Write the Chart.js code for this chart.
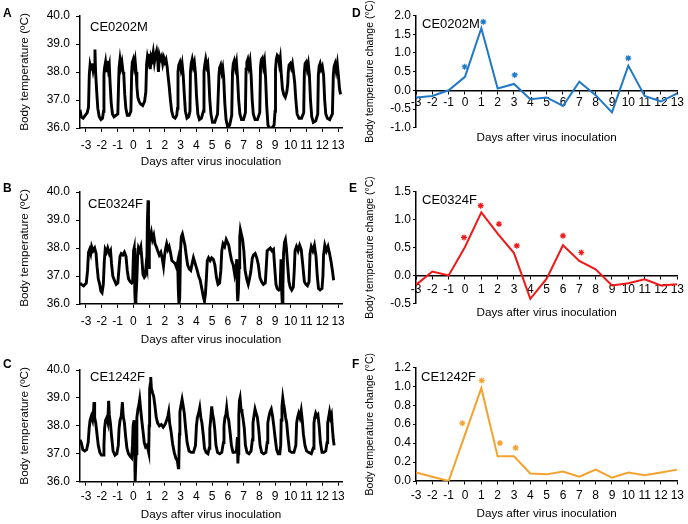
<!DOCTYPE html>
<html lang="en">
<head>
<meta charset="UTF-8">
<title>Body temperature after virus inoculation</title>
<script src="https://cdn.jsdelivr.net/npm/chart.js"></script>
<style>
    body { margin: 0; background: #fff; }
    #wrap { position: relative; width: 688px; height: 524px; }
    #wrap canvas { position: absolute; }
</style>
</head>
<body>
<div id="wrap">
    <canvas id="cA" width="344" height="175" style="left:0;top:0"></canvas>
    <canvas id="cD" width="344" height="175" style="left:344px;top:0"></canvas>
    <canvas id="cB" width="344" height="175" style="left:0;top:175px"></canvas>
    <canvas id="cE" width="344" height="175" style="left:344px;top:175px"></canvas>
    <canvas id="cC" width="344" height="174" style="left:0;top:350px"></canvas>
    <canvas id="cF" width="344" height="174" style="left:344px;top:350px"></canvas>
</div>
<script>
// tick labels
const dayLabels = [-3, -2, -1, 0, 1, 2, 3, 4, 5, 6, 7, 8, 9, 10, 11, 12, 13];
const tempTicks = [36, 37, 38, 39, 40];
const ticksD = [-1, -0.5, 0, 0.5, 1, 1.5, 2];
const ticksE = [-0.5, 0, 0.5, 1, 1.5];
const ticksF = [0, 0.2, 0.4, 0.6, 0.8, 1.0, 1.2];

// continuous body temperature traces, [day, °C]
const traceA = [
[-3.38,36.65],[-3.30,36.4],[-3.18,36.35],[-3.05,36.45],[-2.92,36.55],[-2.84,36.75],
[-2.79,37.9],[-2.74,38.25],[-2.68,38.1],[-2.62,38.3],[-2.55,38.05],[-2.49,38.25],[-2.43,38.8],[-2.39,38.0],[-2.32,37.3],[-2.25,36.7],[-2.16,36.4],[-2.05,36.3],[-1.95,36.35],[-1.89,36.6],
[-1.86,37.9],[-1.82,38.15],[-1.76,38.35],[-1.70,38.0],[-1.64,38.4],[-1.58,38.1],[-1.52,38.25],[-1.47,37.6],[-1.40,36.9],[-1.32,36.5],[-1.22,36.4],[-1.10,36.45],[-0.98,36.5],
[-0.93,37.6],[-0.90,38.15],[-0.84,38.45],[-0.78,38.2],[-0.72,38.35],[-0.65,38.0],[-0.60,37.9],[-0.54,37.2],[-0.47,36.7],[-0.38,36.45],[-0.26,36.45],[-0.15,36.6],
[-0.10,38.0],[-0.06,38.35],[0.00,38.45],[0.06,38.2],[0.12,38.4],[0.18,38.0],[0.23,37.5],[0.29,37.1],[0.37,36.95],[0.48,36.85],[0.60,36.8],[0.72,36.95],[0.80,37.3],
[0.85,38.3],[0.90,38.55],[0.96,38.4],[1.02,38.65],[1.08,38.1],[1.14,38.55],[1.20,38.45],[1.27,38.7],[1.34,38.35],[1.41,38.6],[1.48,38.75],[1.54,38.5],[1.60,38.0],[1.66,38.6],[1.73,38.45],[1.80,38.55],[1.87,38.3],[1.94,38.5],[2.01,38.35],[2.08,38.45],[2.15,38.2],[2.21,37.85],[2.28,37.5],[2.36,37.0],[2.44,36.6],[2.54,36.4],[2.66,36.35],[2.76,36.45],[2.81,36.7],
[2.84,38.0],[2.89,38.25],[2.96,38.35],[3.03,38.1],[3.10,38.3],[3.17,37.9],[3.24,37.2],[3.31,36.6],[3.41,36.35],[3.52,36.4],[3.60,36.6],
[3.63,38.0],[3.68,38.3],[3.74,38.45],[3.81,38.2],[3.88,38.35],[3.95,37.95],[4.02,37.1],[4.10,36.5],[4.20,36.3],[4.33,36.35],[4.45,36.6],
[4.49,38.0],[4.54,38.25],[4.60,38.45],[4.67,38.2],[4.73,38.3],[4.79,37.85],[4.86,37.0],[4.93,36.5],[5.03,36.2],[5.17,36.2],[5.35,36.5],
[5.44,37.9],[5.48,38.15],[5.55,38.25],[5.62,38.0],[5.68,38.15],[5.74,37.8],[5.81,36.9],[5.89,36.3],[5.99,36.05],[6.12,36.1],[6.25,36.45],
[6.30,38.0],[6.35,38.3],[6.41,38.4],[6.48,38.15],[6.55,38.35],[6.62,37.8],[6.69,37.0],[6.77,36.5],[6.87,36.3],[7.00,36.3],[7.12,36.55],
[7.16,38.1],[7.21,38.35],[7.27,38.45],[7.34,38.2],[7.41,38.4],[7.48,37.9],[7.55,37.0],[7.62,36.5],[7.73,36.3],[7.88,36.3],[8.03,36.55],
[8.08,38.2],[8.13,38.45],[8.19,38.5],[8.26,38.2],[8.33,38.4],[8.40,37.8],[8.47,36.8],[8.55,36.1],[8.65,36.0],[8.80,36.0],[8.94,36.1],[9.00,36.6],
[9.03,38.1],[9.08,38.45],[9.14,38.6],[9.21,38.55],[9.27,38.3],[9.33,38.5],[9.40,37.9],[9.47,37.4],[9.55,37.2],[9.65,37.1],[9.75,37.3],[9.81,37.6],
[9.84,38.0],[9.89,38.25],[9.96,38.3],[10.03,38.15],[10.10,38.3],[10.17,38.0],[10.25,37.6],[10.32,37.0],[10.40,36.5],[10.52,36.35],[10.68,36.35],[10.82,36.55],
[10.86,38.0],[10.91,38.3],[10.97,38.35],[11.04,38.1],[11.11,38.3],[11.18,37.9],[11.25,37.0],[11.33,36.4],[11.43,36.2],[11.58,36.25],[11.71,36.5],
[11.75,37.9],[11.80,38.2],[11.86,38.3],[11.93,38.1],[12.00,38.2],[12.08,37.9],[12.15,37.0],[12.22,36.5],[12.32,36.35],[12.47,36.3],[12.64,36.5],
[12.70,37.9],[12.75,38.2],[12.81,38.3],[12.88,38.05],[12.95,38.3],[13.02,37.9],[13.09,37.4],[13.16,37.2]
];

const traceB = [
[-3.38,36.75],[-3.30,36.7],[-3.15,36.65],[-2.98,36.75],[-2.90,37.2],[-2.84,37.85],[-2.77,37.95],[-2.70,37.8],[-2.64,38.05],[-2.55,37.9],[-2.45,38.0],[-2.36,37.8],[-2.30,37.35],[-2.22,36.9],[-2.13,36.7],[-2.05,36.45],[-1.98,36.4],[-1.90,36.7],
[-1.84,37.5],[-1.78,37.95],[-1.70,37.85],[-1.62,38.0],[-1.52,37.8],[-1.44,37.9],[-1.38,37.45],[-1.30,37.0],[-1.20,36.85],[-1.08,36.7],[-0.98,36.75],
[-0.90,37.3],[-0.84,37.7],[-0.76,37.8],[-0.66,37.75],[-0.56,37.85],[-0.46,37.7],[-0.38,37.2],[-0.30,36.9],[-0.20,36.8],[-0.10,36.75],[-0.04,36.8],
[0.02,37.9],[0.06,38.0],[0.10,36.4],[0.13,36.0],[0.17,36.2],[0.23,36.9],[0.28,37.7],[0.33,38.0],[0.40,37.9],[0.48,38.05],[0.55,37.6],[0.62,37.05],[0.70,36.95],[0.76,37.0],[0.82,37.4],[0.86,37.3],
[0.90,39.0],[0.94,39.7],[0.97,39.2],[1.00,37.3],[1.02,38.6],[1.08,38.35],[1.15,38.55],[1.22,38.3],[1.30,38.45],[1.38,38.15],[1.46,38.05],[1.55,37.9],[1.65,37.75],[1.75,37.85],[1.85,37.6],[1.92,37.35],[1.98,37.7],[2.06,38.0],[2.12,38.15],[2.20,37.95],[2.28,38.05],[2.36,37.85],[2.45,37.55],[2.55,37.5],[2.65,37.45],[2.75,37.3],[2.82,37.5],
[2.86,36.5],[2.90,36.0],[2.95,36.2],[3.00,37.9],[3.05,38.4],[3.12,38.5],[3.20,38.3],[3.28,38.1],[3.36,37.75],[3.45,37.4],[3.55,37.25],[3.65,37.2],[3.74,37.45],[3.82,37.65],[3.90,37.5],[3.98,37.35],[4.06,37.2],[4.15,37.0],[4.25,36.85],[4.35,36.55],[4.45,36.25],[4.52,36.1],[4.58,36.35],
[4.64,36.9],[4.70,37.55],[4.78,37.65],[4.88,37.55],[4.98,37.65],[5.08,37.6],[5.18,37.4],[5.28,36.95],[5.38,36.7],[5.48,36.75],
[5.56,37.2],[5.62,37.9],[5.70,38.15],[5.80,38.05],[5.90,38.3],[5.98,38.2],[6.06,38.1],[6.14,37.85],[6.24,37.55],[6.34,37.4],[6.44,37.05],[6.52,37.3],[6.57,37.6],
[6.60,36.5],[6.63,36.1],[6.67,36.4],[6.72,37.3],[6.76,38.4],[6.80,38.65],[6.86,38.5],[6.94,38.3],[7.02,37.9],[7.10,37.2],[7.20,36.9],[7.30,36.7],[7.38,36.9],
[7.46,37.15],[7.56,37.65],[7.64,37.75],[7.74,37.8],[7.84,37.65],[7.94,37.4],[8.04,36.95],[8.14,36.8],[8.26,36.7],[8.38,36.75],
[8.44,37.3],[8.50,37.9],[8.60,37.95],[8.70,38.0],[8.80,37.9],[8.90,37.95],[8.98,37.3],[9.06,36.7],[9.14,36.55],[9.24,36.5],[9.32,36.55],
[9.38,37.6],[9.42,36.5],[9.46,36.0],[9.50,36.6],[9.54,37.8],[9.60,38.2],[9.66,38.3],[9.72,38.0],[9.80,37.4],[9.88,36.8],[9.96,36.6],[10.06,36.5],[10.16,36.6],
[10.22,37.2],[10.27,37.9],[10.36,38.05],[10.46,37.9],[10.56,38.1],[10.66,37.95],[10.76,37.4],[10.86,36.8],[10.96,36.7],[11.06,36.65],[11.16,36.8],
[11.22,37.8],[11.30,38.05],[11.40,37.9],[11.50,38.1],[11.60,37.7],[11.68,37.0],[11.76,36.55],[11.86,36.5],[11.98,36.55],
[12.04,37.0],[12.08,37.75],[12.16,38.1],[12.26,37.9],[12.36,38.05],[12.46,37.8],[12.56,37.5],[12.64,37.2],[12.72,36.85]
];

const traceC = [
[-3.38,37.5],[-3.30,37.4],[-3.20,37.15],[-3.08,37.1],[-2.96,37.15],[-2.86,37.4],
[-2.80,37.9],[-2.74,38.2],[-2.66,38.35],[-2.58,38.2],[-2.53,38.45],[-2.49,38.85],[-2.45,38.3],[-2.38,38.1],[-2.30,37.7],[-2.22,37.3],[-2.12,37.05],[-2.02,36.95],[-1.92,36.95],[-1.86,37.3],
[-1.82,37.9],[-1.76,38.2],[-1.68,38.3],[-1.62,38.15],[-1.56,38.9],[-1.52,38.4],[-1.45,38.1],[-1.37,37.6],[-1.28,37.1],[-1.16,36.95],[-1.04,37.0],[-0.95,37.3],
[-0.90,37.9],[-0.84,38.2],[-0.76,38.35],[-0.69,38.85],[-0.64,38.35],[-0.56,38.1],[-0.48,37.6],[-0.40,37.2],[-0.30,37.0],[-0.18,36.9],[-0.10,36.85],[-0.05,37.3],
[-0.01,38.0],[0.05,38.2],[0.09,37.2],[0.12,36.0],[0.15,36.0],[0.18,37.0],[0.23,38.3],[0.30,38.6],[0.36,38.75],[0.41,38.95],[0.47,38.6],[0.54,38.2],[0.62,37.8],[0.70,37.4],[0.78,37.25],[0.86,37.3],[0.94,37.15],[0.98,37.05],
[1.01,38.0],[1.04,39.3],[1.08,39.5],[1.11,39.75],[1.15,39.35],[1.22,39.2],[1.30,39.05],[1.38,38.7],[1.46,38.3],[1.55,38.1],[1.66,38.0],[1.78,38.05],[1.90,37.95],[2.02,38.05],[2.12,38.2],[2.20,38.35],[2.25,38.5],[2.31,38.1],[2.40,37.8],[2.50,37.35],[2.60,37.05],[2.70,36.85],[2.80,36.75],[2.86,36.5],[2.89,36.6],
[2.93,37.7],[2.96,38.5],[3.02,38.7],[3.10,38.95],[3.16,38.75],[3.24,38.45],[3.32,37.95],[3.42,37.4],[3.54,37.1],[3.68,37.05],[3.82,37.05],[3.95,37.3],
[4.01,38.0],[4.07,38.3],[4.15,38.45],[4.22,38.65],[4.29,38.3],[4.36,38.1],[4.44,37.7],[4.52,37.2],[4.62,37.05],[4.74,37.0],[4.82,37.2],
[4.86,37.9],[4.91,38.2],[4.98,38.7],[5.04,38.4],[5.10,38.25],[5.17,37.9],[5.25,37.3],[5.35,37.05],[5.48,37.0],[5.62,37.05],[5.72,37.4],
[5.76,38.0],[5.82,38.3],[5.88,38.4],[5.93,38.65],[5.99,38.35],[6.06,38.2],[6.14,37.8],[6.23,37.3],[6.33,37.05],[6.45,37.05],[6.55,37.1],[6.61,37.6],[6.64,36.65],[6.67,37.0],
[6.70,38.4],[6.74,38.9],[6.78,39.0],[6.84,38.6],[6.90,38.5],[6.97,38.25],[7.05,37.9],[7.12,37.3],[7.22,37.05],[7.35,37.0],[7.48,37.1],[7.56,37.5],
[7.60,38.1],[7.66,38.35],[7.73,38.6],[7.80,38.45],[7.88,38.3],[7.96,37.9],[8.05,37.3],[8.15,37.05],[8.28,37.0],[8.42,37.05],[8.50,37.4],
[8.54,38.1],[8.60,38.3],[8.68,38.5],[8.76,38.6],[8.84,38.35],[8.92,38.0],[9.00,37.6],[9.10,37.15],[9.20,37.0],[9.30,37.0],[9.36,37.3],
[9.39,38.2],[9.44,38.7],[9.49,39.0],[9.54,38.8],[9.60,38.6],[9.67,38.3],[9.74,38.1],[9.82,37.6],[9.92,37.1],[10.05,37.05],[10.20,37.05],[10.32,37.3],
[10.37,38.1],[10.43,38.3],[10.50,38.45],[10.58,38.3],[10.66,38.55],[10.73,38.2],[10.80,37.7],[10.90,37.3],[11.00,37.1],[11.12,37.05],[11.30,37.0],[11.42,37.2],
[11.47,38.1],[11.52,38.3],[11.58,38.45],[11.65,38.35],[11.72,38.4],[11.80,38.0],[11.88,37.4],[11.98,37.05],[12.10,37.05],[12.22,37.1],[12.30,37.4],
[12.34,38.1],[12.40,38.3],[12.46,38.5],[12.52,38.3],[12.58,38.4],[12.64,37.9],[12.70,37.5],[12.75,37.3]
];

// daily mean change from baseline (°C), one value per day in dayLabels
const changeD = [-0.19, -0.15, 0.0, 0.36, 1.66, 0.05, 0.17, -0.24, -0.19, -0.42, 0.23, -0.13, -0.59, 0.66, -0.15, -0.30, -0.08];
const changeE = [-0.17, 0.07, 0.0, 0.51, 1.13, 0.75, 0.40, -0.42, -0.06, 0.54, 0.26, 0.11, -0.18, -0.14, -0.07, -0.18, -0.16];
const changeF = [0.09, 0.045, 0.0, 0.49, 0.98, 0.26, 0.26, 0.08, 0.07, 0.10, 0.045, 0.12, 0.035, 0.09, 0.06, 0.09, 0.12];

// significance asterisks, [day, height]
const starsD = [[-0.02, 0.63], [1.12, 1.83], [3.04, 0.41], [10.0, 0.86]];
const starsE = [[-0.06, 0.68], [0.96, 1.25], [2.08, 0.92], [3.17, 0.53], [6.0, 0.71], [7.12, 0.41]];
const starsF = [[-0.16, 0.61], [1.02, 1.06], [2.14, 0.40], [3.10, 0.35]];

const FONT = "'Liberation Sans', Arial, sans-serif";
Chart.defaults.font.family = FONT;
Chart.defaults.font.size = 12;
Chart.defaults.color = '#000';

// panel letter + animal id
const panelText = {
    id: 'panelText',
    afterDraw(chart, args, o) {
        const ctx = chart.ctx;
        ctx.save();
        ctx.fillStyle = '#000';
        ctx.textBaseline = 'alphabetic';
        ctx.font = 'bold 12px ' + FONT;
        ctx.fillText(o.letter, o.lx, o.ly);
        ctx.textBaseline = 'middle';
        ctx.font = '13px ' + FONT;
        ctx.fillText(o.name, o.nx, o.ny);
        ctx.restore();
    }
};

function setTicks(list) {
    return s => { s.ticks = list.map(v => ({ value: v })); };
}

function tempChart(id, trace, text, lay) {
    new Chart(document.getElementById(id), {
        type: 'line',
        data: {
            datasets: [{
                data: trace.map(p => ({ x: p[0], y: p[1] })),
                borderColor: '#000',
                borderWidth: 2.9,
                pointRadius: 0,
                tension: 0,
                fill: false
            }]
        },
        plugins: [panelText],
        options: {
            responsive: false,
            animation: false,
            events: [],
            layout: { padding: { left: 18, top: lay.top, right: 2, bottom: 0 } },
            plugins: { legend: { display: false }, tooltip: { enabled: false }, panelText: text },
            scales: {
                x: {
                    type: 'linear', min: -3.38, max: 13.25,
                    afterBuildTicks: setTicks(dayLabels),
                    afterFit: s => { s.height = lay.xh; s.paddingLeft = 0; s.paddingRight = 0; },
                    grid: { drawOnChartArea: false, tickLength: 4, color: '#000' },
                    border: { color: '#000', width: 1.5 },
                    ticks: { padding: lay.tp, autoSkip: false, maxRotation: 0 },
                    title: { display: true, text: 'Days after virus inoculation', font: { size: 11.7 }, padding: { top: 0, bottom: lay.pb } }
                },
                y: {
                    min: 36, max: 40,
                    afterBuildTicks: setTicks(tempTicks),
                    afterFit: s => { s.width = 62; s.paddingTop = 0; s.paddingBottom = 0; },
                    grid: { drawOnChartArea: false, tickLength: 4, color: '#000' },
                    border: { color: '#000', width: 1.5 },
                    ticks: { padding: 6, callback: v => v.toFixed(1) },
                    title: { display: true, text: 'Body temperature (ºC)', font: { size: 11.8 }, padding: 0 }
                }
            }
        }
    });
}

function changeChart(id, values, stars, yTicks, color, text, lay) {
    new Chart(document.getElementById(id), {
        type: 'line',
        data: {
            datasets: [{
                data: values.map((v, i) => ({ x: dayLabels[i], y: v })),
                borderColor: color,
                borderWidth: 2,
                pointRadius: 0,
                tension: 0,
                xAxisID: 'x'
            }, {
                data: stars.map(p => ({ x: p[0], y: p[1] })),
                showLine: false,
                pointStyle: 'star',
                pointRadius: 3,
                borderColor: color,
                borderWidth: 1.2,
                xAxisID: 'x'
            }]
        },
        plugins: [panelText],
        options: {
            responsive: false,
            animation: false,
            events: [],
            layout: { padding: { left: 20, top: lay.top, right: 10.7, bottom: 0 } },
            plugins: { legend: { display: false }, tooltip: { enabled: false }, panelText: text },
            scales: {
                x: {
                    type: 'linear', min: -3, max: 13,
                    position: { y: 0 },
                    afterBuildTicks: setTicks(dayLabels),
                    afterFit: s => { s.height = 0; s.paddingLeft = 0; s.paddingRight = 0; },
                    grid: { drawOnChartArea: false, tickLength: 3, color: '#000' },
                    border: { color: '#000', width: 1.5 },
                    ticks: { padding: lay.tp, autoSkip: false, maxRotation: 0 }
                },
                xt: {
                    type: 'linear', position: 'bottom', min: -3, max: 13,
                    afterFit: s => { s.height = lay.xh; s.paddingLeft = 0; s.paddingRight = 0; },
                    grid: { display: false, drawTicks: false },
                    border: { display: false },
                    ticks: { display: false },
                    title: { display: true, text: 'Days after virus inoculation', font: { size: 11.7 }, padding: { top: 0, bottom: lay.pb } }
                },
                y: {
                    min: yTicks[0], max: yTicks[yTicks.length - 1],
                    afterBuildTicks: setTicks(yTicks),
                    afterFit: s => { s.width = 52; s.paddingTop = 0; s.paddingBottom = 0; },
                    grid: { drawOnChartArea: false, tickLength: 3, color: '#000' },
                    border: { color: '#000', width: 1.5 },
                    ticks: { padding: 2, callback: v => v.toFixed(1) },
                    title: { display: true, text: 'Body temperature change (°C)', font: { size: 10.5 }, padding: 0 }
                }
            }
        }
    });
}

tempChart('cA', traceA, { letter: 'A', lx: 3, ly: 17, name: 'CE0202M', nx: 90, ny: 27 },
    { top: 16, xh: 47, tp: 6, pb: 6 });
tempChart('cB', traceB, { letter: 'B', lx: 3, ly: 17, name: 'CE0324F', nx: 88, ny: 29 },
    { top: 17, xh: 46, tp: 6, pb: 3.5 });
tempChart('cC', traceC, { letter: 'C', lx: 3, ly: 18, name: 'CE1242F', nx: 90, ny: 27 },
    { top: 20, xh: 42.3, tp: 4, pb: 2.5 });

changeChart('cD', changeD, starsD, ticksD, '#1f78c8', { letter: 'D', lx: 8, ly: 17, name: 'CE0202M', nx: 78, ny: 24 },
    { top: 15.5, xh: 47.3, tp: 2.5, pb: 30 });
changeChart('cE', changeE, starsE, ticksE, '#f01818', { letter: 'E', lx: 5, ly: 17, name: 'CE0324F', nx: 78, ny: 25 },
    { top: 16.7, xh: 46.7, tp: 4.5, pb: 30 });
changeChart('cF', changeF, starsF, ticksF, '#f5a12e', { letter: 'F', lx: 8, ly: 18, name: 'CE1242F', nx: 77, ny: 27 },
    { top: 17.3, xh: 43, tp: 4, pb: 3.5 });
</script>
</body>
</html>
